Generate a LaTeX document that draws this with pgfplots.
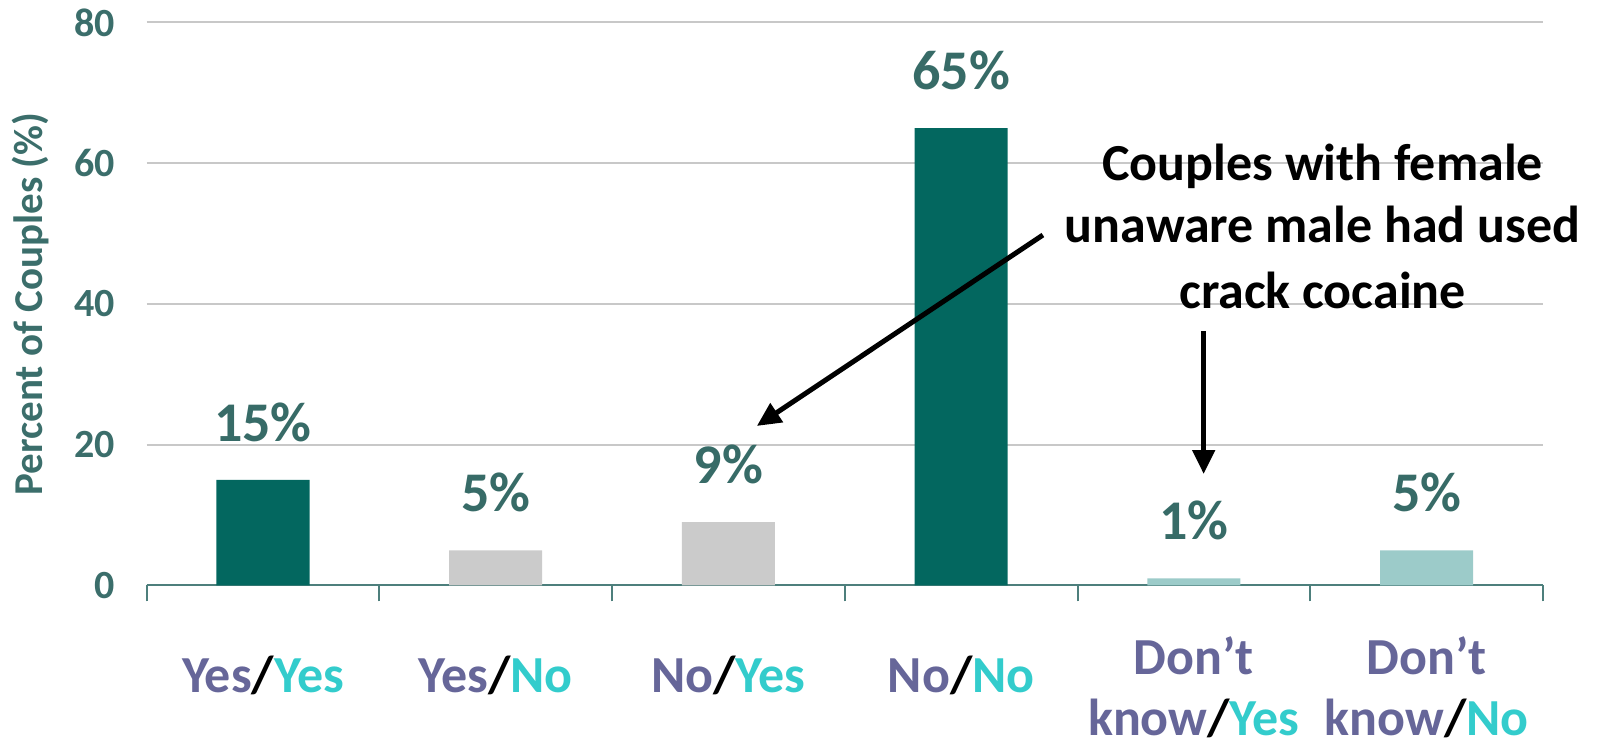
\documentclass[border=0pt]{standalone}
\usepackage{pgfplots}
\pgfplotsset{compat=1.18}
\usepackage{fontspec}
\setmainfont{Carlito}
\usetikzlibrary{arrows.meta}

\definecolor{barDark}{HTML}{03675F}
\definecolor{barGray}{HTML}{CBCBCB}
\definecolor{barLight}{HTML}{9CCBC9}
\definecolor{valText}{HTML}{376B67}
\definecolor{axisText}{HTML}{3B6E6B}
\definecolor{axisLine}{HTML}{4D7F7C}
\definecolor{gridGray}{HTML}{C8C8C8}
\definecolor{femCol}{HTML}{666699}
\definecolor{maleCol}{HTML}{33CCCC}

\newcommand{\F}{\textcolor{femCol}}
\newcommand{\M}{\textcolor{maleCol}}

\begin{document}
\begin{tikzpicture}
\begin{axis}[
  at={(73.3pt,81.25pt)}, anchor=south west,
  scale only axis, width=698.2pt, height=281.5pt,
  clip=false,
  xmin=-0.5, xmax=5.5, ymin=0, ymax=80,
  separate axis lines,
  axis x line*=bottom, axis y line*=left,
  x axis line style={draw=axisLine, line width=1pt},
  y axis line style={draw=none},
  tick align=outside,
  major tick length=0pt,
  minor tick length=8pt,
  xtick={0,1,2,3,4,5},
  minor xtick={-0.5,0.5,1.5,2.5,3.5,4.5,5.5},
  minor x tick style={draw=axisLine, line width=1pt},
  ytick={0,20,40,60,80},
  ytick style={draw=none},
  ymajorgrids,
  major grid style={draw=gridGray, line width=1pt},
  /pgf/number format/assume math mode=true,
  yticklabel style={font=\fontsize{20}{24}\selectfont\bfseries, color=axisText,
    anchor=east, inner sep=0pt, xshift=-15.8pt},
  xticklabel style={font=\fontsize{26}{30.5}\selectfont\bfseries, color=black,
    anchor=north, align=center, inner sep=0pt, yshift=-24.25pt},
  xticklabels={
    {\rule{0pt}{29pt}\F{Yes}/\M{Yes}},
    {\rule{0pt}{29pt}\F{Yes}/\M{No}},
    {\rule{0pt}{29pt}\F{No}/\M{Yes}},
    {\rule{0pt}{29pt}\F{No}/\M{No}},
    {\rule{0pt}{20pt}\F{Don’t}\\\F{know}/\M{Yes}},
    {\rule{0pt}{20pt}\F{Don’t}\\\F{know}/\M{No}}},
  ylabel={Percent of Couples (\%)},
  every axis y label/.style={at={(axis description cs:-0.0964,0.5)},
    rotate=90, anchor=north, inner sep=0pt,
    font=\fontsize{20.5}{24}\selectfont\bfseries, color=axisText},
  ybar, bar width=0.4,
  nodes near coords={\pgfmathprintnumber{\pgfplotspointmeta}\%},
  every node near coord/.append style={font=\fontsize{28}{32}\selectfont\bfseries,
    color=valText, inner sep=0pt, yshift=19pt},
]
% respondent pairs (female answer / male answer)
\addplot[fill=barDark, draw=none, bar shift=0pt] coordinates {(0,15) (3,65)};
\addplot[fill=barGray, draw=none, bar shift=0pt] coordinates {(1,5) (2,9)};
\addplot[fill=barLight, draw=none, bar shift=0pt] coordinates {(4,1) (5,5)};

% callout
\begin{scope}[font=\fontsize{26}{31.5}\selectfont\bfseries]
  \node[anchor=base] at (axis cs:4.553,57.5) {Couples with female};
  \node[anchor=base] at (axis cs:4.553,48.7) {unaware male had used};
  \node[anchor=base] at (axis cs:4.553,39.4) {crack cocaine};
\end{scope}
\draw[line width=2.5pt, -{Triangle[length=12pt,width=11pt]}]
  (axis cs:3.351,49.8) -- (axis cs:2.122,22.67);
\draw[line width=2.5pt, -{Triangle[length=12pt,width=11pt]}]
  (axis cs:4.042,36.16) -- (axis cs:4.042,15.84);
\end{axis}
\pgfresetboundingbox
\path (0,0) rectangle (804pt,374pt);
\end{tikzpicture}
\end{document}
